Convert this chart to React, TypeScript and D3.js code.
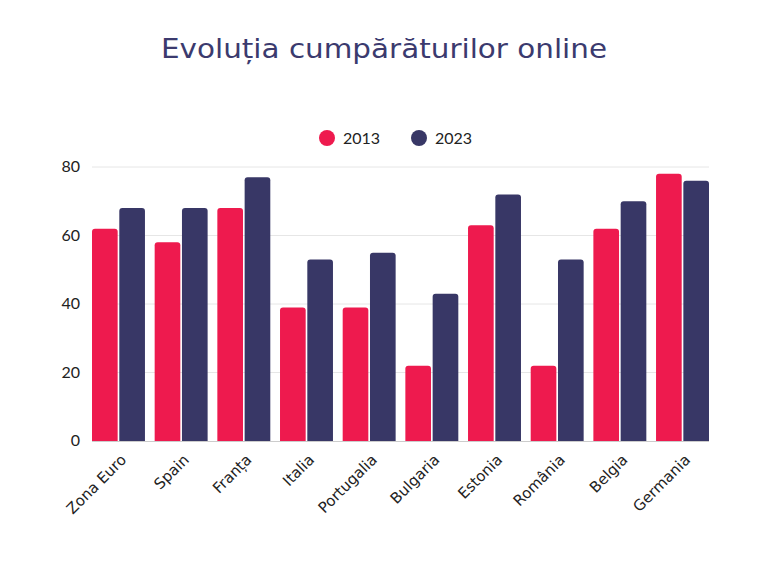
import React from "react";
import * as d3 from "d3";

const categories = ["Zona Euro", "Spain", "Franța", "Italia", "Portugalia", "Bulgaria", "Estonia", "România", "Belgia", "Germania"];
const values2013 = [62, 58, 68, 39, 39, 22, 63, 22, 62, 78];
const values2023 = [68, 68, 77, 53, 55, 43, 72, 53, 70, 76];
const seriesNames = ["2013", "2023"];
const yTicks = [0, 20, 40, 60, 80];
const title = "Evoluția cumpărăturilor online";

const colors = ["#EE1A4E", "#383766"];

function topRoundedRect(x: number, y: number, w: number, h: number, r: number) {
  const rr = Math.min(r, h, w / 2);
  return `M${x},${y + h}V${y + rr}Q${x},${y} ${x + rr},${y}H${x + w - rr}Q${x + w},${y} ${x + w},${y + rr}V${y + h}Z`;
}

export default function App() {
  const W = 768, H = 576;
  const left = 92, right = 709, top = 167, bottom = 441;
  const x = d3.scaleBand<string>().domain(categories).range([left, right]).paddingInner(0.155).paddingOuter(0);
  const sub = d3.scaleBand<string>().domain(seriesNames).range([0, x.bandwidth()]).paddingInner(0.06);
  const y = d3.scaleLinear().domain([0, 80]).range([bottom, top]);
  const font = "Lato, 'Open Sans', sans-serif";
  const series = [values2013, values2023];
  return (
    <svg width={W} height={H} style={{ position: "absolute", left: 0, top: 0, background: "#fff" }} fontFamily={font}>
      <text x={384} y={58} textAnchor="middle" fontSize={27} fill="#3b3a6e" fontFamily="'DejaVu Sans', sans-serif" textLength={446} lengthAdjust="spacingAndGlyphs">{title}</text>
      {/* legend */}
      <circle cx={327} cy={138} r={8} fill={colors[0]} />
      <text x={343} y={144} fontSize={16} fill="#222">{seriesNames[0]}</text>
      <circle cx={419} cy={138} r={8} fill={colors[1]} />
      <text x={435} y={144} fontSize={16} fill="#222">{seriesNames[1]}</text>
      {/* grid */}
      {yTicks.map((t) => (
        <g key={t}>
          {t > 0 && <line x1={left} x2={right} y1={y(t)} y2={y(t)} stroke="#e6e6e6" strokeWidth={1} />}
          <text x={80} y={y(t) + 5} textAnchor="end" fontSize={16} fill="#222">{t}</text>
        </g>
      ))}
      {/* bars */}
      {categories.map((c, i) => (
        <g key={c}>
          {series.map((s, j) => (
            <path key={j} d={topRoundedRect(x(c)! + sub(seriesNames[j])!, y(s[i]), sub.bandwidth(), bottom - y(s[i]), 3)} fill={colors[j]} />
          ))}
        </g>
      ))}
      <line x1={left} x2={right} y1={bottom + 0.5} y2={bottom + 0.5} stroke="#ccc" strokeWidth={1} />
      {/* x labels */}
      {categories.map((c) => {
        const cx = x(c)! + x.bandwidth() / 2 + 5;
        const cy = bottom + 16;
        return (
          <text key={c} transform={`translate(${cx},${cy}) rotate(-45)`} textAnchor="end" fontSize={15} fill="#222" dy="0.35em" fontFamily="'DejaVu Sans', sans-serif">{c}</text>
        );
      })}
    </svg>
  );
}
